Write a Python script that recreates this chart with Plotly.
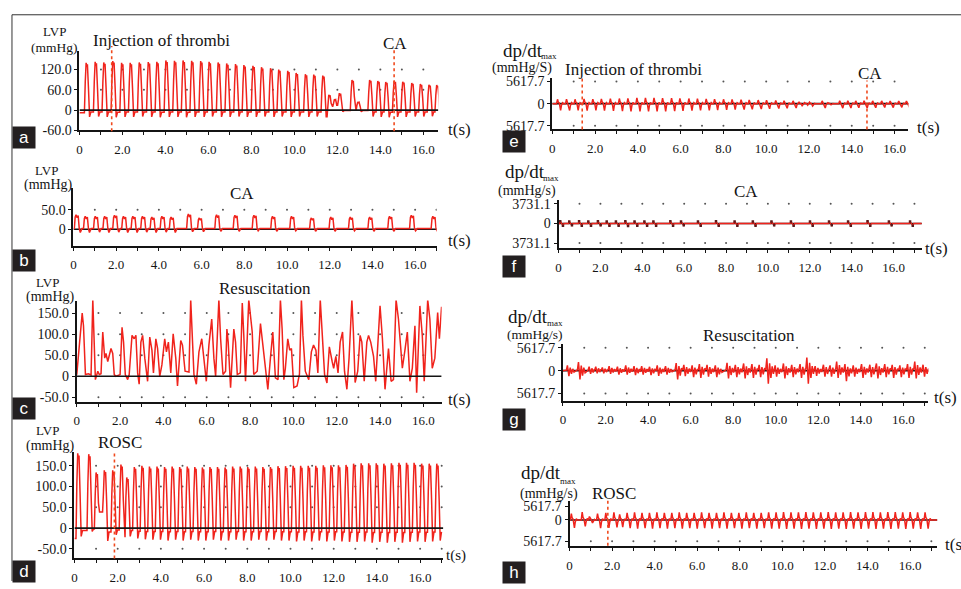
import plotly.graph_objects as go

# ---------------- data ----------------
x_tick_text = ["0", "", "2.0", "", "4.0", "", "6.0", "", "8.0", "", "10.0", "", "12.0", "", "14.0", "", "16.0", ""]

# (a) LVP, injection of thrombi -> CA : beat peak times (s), peak / trough (mmHg)
a_t = [0.31, 0.73, 1.13, 1.55, 1.96, 2.36, 2.78, 3.20, 3.60, 4.02, 4.42, 4.82, 5.22, 5.64,
       6.03, 6.45, 6.85, 7.26, 7.65, 8.07, 8.47, 8.89, 9.27, 9.69, 10.08, 10.51, 10.90, 11.32,
       11.60, 11.86, 12.09, 12.68, 12.95, 13.50, 13.88, 14.25, 14.64, 15.04, 15.46, 15.86,
       16.26, 16.62]
a_peak = [140, 143, 141, 145, 140, 140, 141, 142, 143, 147, 146, 147, 146, 145, 143, 141, 138,
          136, 133, 131, 127, 124, 120, 116, 110, 106, 105, 102, 45, 32, 50, 89, 24, 89, 86,
          83, 86, 84, 80, 77, 75, 74]
a_trough = [-20, -19, -20, -21, -20, -20, -19, -20, -21, -20, -20, -21, -20, -20, -19, -20, -20,
            -19, -20, -20, -19, -20, -19, -20, -19, -20, -19, -20, 10, 5, -5, -2, -5, -19, -20,
            -21, -20, -20, -19, -19, -18, -18]
a_start = -8
a_events = [1.5, 14.64]

# (b) LVP during CA
b_t = [0.16, 0.59, 1.06, 1.50, 1.96, 2.38, 2.82, 3.27, 3.71, 4.18, 4.61, 5.42, 5.93, 6.74,
       7.60, 8.49, 9.36, 10.25, 11.18, 12.09, 13.00, 13.91, 14.84, 15.86, 16.87]
b_peak = [37, 33, 33, 33, 36, 33, 33, 33, 31, 33, 31, 39, 29, 37, 36, 36, 33, 33, 29, 31, 31,
          31, 33, 36, 33]
b_trough = [-8, -8, -7, -8, -7, -8, -8, -7, -8, -7, -8, -6, -6, -5, -5, -4, -5, -4, -5, -5, -4,
            -5, -5, -4, -5]
b_base = 2

# (c) LVP during resuscitation: turning points of the trace
c_t = [0.00, 0.20, 0.25, 0.31, 0.40, 0.54, 0.66, 0.74, 0.81, 0.86, 0.97, 1.04, 1.12, 1.20, 1.29,
       1.35, 1.43, 1.50, 1.58, 1.66, 1.73, 1.81, 2.00, 2.09, 2.16, 2.24, 2.35, 2.42, 2.55, 2.65,
       2.73, 2.81, 2.88, 2.96, 3.04, 3.14, 3.27, 3.37, 3.47, 3.54, 3.65, 3.73, 3.83, 3.93, 4.06,
       4.14, 4.23, 4.34, 4.45, 4.57, 4.65, 4.80, 4.88, 5.00, 5.18, 5.26, 5.34, 5.41, 5.52, 5.64,
       5.77, 5.87, 5.98, 6.10, 6.23, 6.33, 6.41, 6.56, 6.64, 6.75, 6.87, 6.93, 6.99, 7.10, 7.25,
       7.33, 7.41, 7.55, 7.64, 7.71, 7.79, 7.94, 8.10, 8.17, 8.33, 8.48, 8.59, 8.71, 8.82, 8.94,
       9.05, 9.17, 9.29, 9.40, 9.48, 9.56, 9.63, 9.74, 9.83, 9.91, 10.02, 10.17, 10.28, 10.37,
       10.44, 10.55, 10.71, 10.83, 10.93, 11.04, 11.13, 11.24, 11.35, 11.44, 11.55, 11.66, 11.79,
       11.86, 11.96, 12.06, 12.16, 12.27, 12.36, 12.47, 12.57, 12.70, 12.77, 12.85, 12.97, 13.08,
       13.16, 13.27, 13.39, 13.47, 13.57, 13.70, 13.80, 13.93, 14.00, 14.11, 14.23, 14.39, 14.51,
       14.62, 14.74, 14.85, 14.95, 15.03, 15.15, 15.26, 15.38, 15.49, 15.61, 15.69, 15.84, 15.95,
       16.04, 16.20, 16.30, 16.41, 16.53, 16.66, 16.74, 16.84]
c_v = [4, 124, 150, 120, 4, 6, 3, 182, 89, -8, 12, 4, 6, 105, 43,
       54, 35, 50, 66, 54, 4, 0, 4, 116, 81, 4, -8, 4, 97, 89,
       97, 8, -19, 81, 97, 43, -12, 93, 62, 8, 89, 66, 0, 27, 89,
       58, 81, 8, 101, 43, -23, 85, 74, 12, 10, 182, 97, 4, -19, 58,
       89, 43, -12, 74, 136, 43, 0, 182, 89, 4, 12, 112, 81, -27, 112,
       81, 4, 8, 174, 97, -12, 182, 105, 4, 12, 125, 70, 12, -31, 43,
       105, -4, -8, 182, 112, -8, 19, 89, 62, 66, -27, -23, 5, 182,
       97, 12, -8, 58, 74, 62, 8, 182, 74, 4, -16, 70, 35,
       19, 47, 8, 81, 105, 12, -31, 43, 182, 105, -15, 12, 97,
       81, -12, 81, 97, 81, 47, -12, 112, 167, 89, -31, 66, -12,
       -8, 182, 136, 58, 19, 62, 105, -12, 19, 120, -39, 167, 97,
       -12, 182, 136, 19, 43, 151, 89, 165]

# (d) LVP after ROSC
d_t = [0.15, 0.66, 1.00, 1.38, 1.77, 2.15, 2.42, 2.77, 3.12, 3.47, 3.82, 4.17, 4.52, 4.87,
       5.22, 5.57, 5.92, 6.27, 6.62, 6.97, 7.32, 7.67, 8.02, 8.37, 8.72, 9.07, 9.42, 9.77,
       10.12, 10.47, 10.82, 11.17, 11.52, 11.87, 12.22, 12.57, 12.92, 13.27, 13.62, 13.97,
       14.32, 14.67, 15.02, 15.37, 15.72, 16.07, 16.42, 16.77]
d_peak = [180, 178, 134, 139, 139, 153, 122,
          147, 150, 148, 148, 147, 148, 147, 148, 147, 146, 147, 147, 146, 148, 148, 147, 148,
          147, 147, 149, 149, 150, 150, 150, 150, 151, 151, 151, 152, 155, 156, 156, 156, 155,
          156, 157, 157, 157, 155, 155, 155]
d_trough = [-20, -8, 39, -31, -16, -22, -20,
            -25, -27, -28, -28, -30, -28, -30, -28, -30, -30, -28, -30, -30, -28, -30, -30, -28,
            -30, -28, -30, -30, -32, -30, -32, -30, -32, -30, -32, -33, -33, -32, -35, -33, -35,
            -33, -35, -33, -32, -33, -32, -30]
d_start = -25
d_events = [1.85]

# (e) dp/dt during thrombi -> CA (same beats as a)
e_up = [1100, 1150, 1100, 1200, 1150, 1200, 1250, 1300, 1350, 1450, 1450, 1450, 1400, 1400,
        1350, 1300, 1250, 1200, 1150, 1100, 1050, 1000, 950, 900, 850, 800, 750, 700, 350, 250,
        400, 700, 200, 750, 750, 700, 750, 700, 700, 650, 650, 650]
e_down = [-1700, -1750, -1700, -1800, -1750, -1800, -1850, -1900, -1950, -2000, -2000, -1950,
          -1950, -1900, -1850, -1800, -1750, -1700, -1650, -1600, -1550, -1500, -1450, -1400,
          -1300, -1250, -1200, -1100, -500, -400, -600, -1100, -300, -1150, -1100, -1050, -1100,
          -1050, -1000, -1000, -950, -950]
e_events = [1.40, 14.71]

# (f) dp/dt during CA (same beats as b)
f_up = [430, 360, 400, 360, 430, 360, 360, 430, 360, 360, 360, 430, 360, 360, 400, 360, 360,
        360, 360, 360, 360, 360, 400, 360, 360]
f_down = [-430, -360, -430, -430, -360, -430, -430, -500, -430, -430, -430, -430, -360, -430,
          -430, -430, -430, -360, -430, -430, -360, -430, -430, -360, -430]

# (g) dp/dt during resuscitation
g_t = [0.23, 0.75, 1.25, 1.56, 1.87, 2.19, 2.58, 2.97, 3.36, 3.72, 4.09, 4.45, 4.84, 5.34, 5.70,
       6.09, 6.43, 6.79, 7.18, 7.73, 8.12, 8.51, 8.90, 9.24, 9.60, 9.99, 10.38, 10.77, 11.16,
       11.48, 11.87, 12.26, 12.57, 12.88, 13.27, 13.66, 14.05, 14.44, 14.75, 15.14, 15.49,
       15.85, 16.21, 16.55, 16.94]
g_up = [1280, 2090, 960, 960, 800, 1120, 960, 1280, 1120, 1120, 960, 1280, 1120, 1850, 1450,
        1280, 1600, 1450, 1280, 1930, 1450, 1770, 1600, 1450, 3050, 1280, 1770, 1450, 1600,
        3210, 1120, 1450, 1280, 2250, 1600, 1280, 1600, 1450, 1770, 1600, 1450, 1280, 1600,
        2250, 1450]
g_down = [-1360, -2170, -800, -640, -640, -800, -960, -960, -1120, -960, -1120, -1280, -960,
          -2170, -1360, -1600, -1770, -1450, -1600, -1930, -1600, -1930, -1770, -1600, -3210,
          -1450, -1930, -1600, -1770, -3210, -1280, -1450, -1450, -1770, -2570, -1450, -1770,
          -1600, -1930, -1600, -1770, -1600, -1770, -1930, -1450]

# (h) dp/dt after ROSC (same beats as d)
h_up = [1700, 2100, 900, 1700, 1900, 2000, 1500,
        1900, 2000, 1900, 1900, 2000, 1900, 1900, 2000, 1900, 1900, 2000, 1900, 1900, 2000,
        1900, 1900, 2000, 1900, 1900, 2000, 2000, 2100, 2000, 2000, 2100, 2000, 2000, 2100,
        2000, 2000, 2100, 2000, 2100, 2100, 2000, 2100, 2100, 2000, 2100, 2000, 2000]
h_down = [-2100, -1700, -800, -2200, -2100, -2000, -1900,
          -2200, -2300, -2200, -2300, -2200, -2300, -2200, -2300, -2200, -2300, -2200, -2300,
          -2200, -2300, -2200, -2300, -2200, -2300, -2200, -2300, -2300, -2400, -2300, -2400,
          -2300, -2400, -2300, -2400, -2300, -2400, -2300, -2400, -2300, -2400, -2300, -2400,
          -2300, -2400, -2300, -2400, -2300]
h_events = [1.80]

# ---------------- styling / geometry ----------------
W, H = 961, 589
RED = "#f0231c"
EVT = "#f04a1e"
INK = "#141414"
SERIF = "Liberation Serif"

panels = {
    "a": dict(x0=76.7, xend=436.7, pxps=21.56, ybot=129.0, ytop=48.0, z=108.3, k=2.899,
              yt=[-60, 0, 60, 120], ytx=["-60.0", "0", "60.0", "120.0"], grid=[60, 120]),
    "b": dict(x0=70.7, xend=435.0, pxps=21.42, ybot=246.7, ytop=188.3, z=230.0, k=2.5,
              yt=[0, 50], ytx=["0", "50.0"], grid=[50]),
    "c": dict(x0=74.0, xend=440.0, pxps=21.73, ybot=406.0, ytop=302.7, z=380.0, k=2.3256,
              yt=[-50, 0, 50, 100, 150], ytx=["-50.0", "0", "50.0", "100.0", "150.0"],
              grid=[-50, 50, 100, 150]),
    "d": dict(x0=71.7, xend=441.7, pxps=21.67, ybot=565.7, ytop=457.3, z=535.0, k=2.358,
              yt=[-50, 0, 50, 100, 150], ytx=["-50.0", "0", "50.0", "100.0", "150.0"],
              grid=[-50, 50, 100, 150]),
    "e": dict(x0=551.0, xend=908.3, pxps=21.46, ybot=127.7, ytop=76.0, z=101.7, k=249.7,
              yt=[-5617.7, 0, 5617.7], ytx=["5617.7", "0", "5617.7"], grid=[-5617.7, 5617.7]),
    "f": dict(x0=557.3, xend=921.7, pxps=21.0, ybot=249.0, ytop=200.0, z=224.0, k=186.6,
              yt=[-3731.1, 0, 3731.1], ytx=["3731.1", "0", "3731.1"], grid=[-3731.1, 3731.1]),
    "g": dict(x0=561.7, xend=928.3, pxps=21.35, ybot=405.0, ytop=347.3, z=374.3, k=240.6,
              yt=[-5617.7, 0, 5617.7], ytx=["5617.7", "0", "5617.7"], grid=[-5617.7, 5617.7]),
    "h": dict(x0=568.3, xend=937.3, pxps=21.35, ybot=553.3, ytop=507.3, z=526.7, k=260.0,
              yt=[-5617.7, 0, 3640], ytx=["5617.7", "0", "5617.7"], grid=[-5617.7]),
}
order = ["a", "b", "c", "d", "e", "f", "g", "h"]


def tend(p):
    return (p["xend"] - p["x0"]) / p["pxps"]


def beat_wave(times, offs, vals_fn, start, end=None):
    xs, ys = [0.0], [start]
    for i, tp in enumerate(times):
        limit = times[i + 1] + offs[0] if i + 1 < len(times) else 1e9
        vals = vals_fn(i, ys[-1])
        for o, v in zip(offs, vals):
            t = tp + o
            if xs[-1] <= t < limit:
                xs.append(t)
                ys.append(v)
    if end is not None:
        xs.append(end[0])
        ys.append(end[1])
    return xs, ys


LVP_OFF = [-0.08, -0.04, 0.0, 0.03, 0.06, 0.11, 0.16, 0.22]


def lvp_fn(peaks, troughs):
    def f(i, rest):
        p, tr = peaks[i], troughs[i]
        return [rest, 0.6 * p, p, 0.92 * p, 0.97 * p, 0.45 * p, tr, 0.3 * tr if tr < 0 else tr]
    return f


B_OFF = [-0.12, -0.08, -0.04, 0.01, 0.06, 0.11, 0.16, 0.24]


def b_fn(i, rest):
    p, tr = b_peak[i], b_trough[i]
    return [b_base, 0.85 * p, p, 0.8 * p, 0.95 * p, b_base, tr, b_base]


DP_OFF = [-0.11, -0.065, -0.03, 0.02, 0.08, 0.12, 0.17, 0.21]


def dp_fn(ups, downs):
    def f(i, rest):
        u, d = ups[i], downs[i]
        return [0, u, 0.35 * u, 0.1 * u, d, 0.25 * d, 0.2 * u, 0]
    return f


G_OFF = [-0.07, -0.02, 0.05, 0.11, 0.17, 0.23, 0.29]


def g_fn(i, rest):
    u, d = g_up[i], g_down[i]
    return [0.1 * u, u, d, 0.6 * u, 0.55 * d, 0.35 * u, 0.25 * d]


F_OFF = [-0.12, -0.08, -0.02, 0.05, 0.10]


def f_fn(i, rest):
    return [0, f_up[i], 0, f_down[i], 0]


waves = {
    "a": beat_wave(a_t, LVP_OFF, lvp_fn(a_peak, a_trough), a_start),
    "b": beat_wave(b_t, B_OFF, b_fn, b_base, (tend(panels["b"]), b_base)),
    "c": (c_t, c_v),
    "d": beat_wave(d_t, LVP_OFF, lvp_fn(d_peak, d_trough), d_start),
    "e": beat_wave(a_t, DP_OFF, dp_fn(e_up, e_down), 0, (tend(panels["e"]), 0)),
    "f": beat_wave(b_t, F_OFF, f_fn, 0, (tend(panels["f"]), 0)),
    "g": beat_wave(g_t, G_OFF, g_fn, 0, (tend(panels["g"]), 0)),
    "h": beat_wave(d_t, DP_OFF, dp_fn(h_up, h_down), 0, (tend(panels["h"]), 0)),
}

fig = go.Figure()
layout = dict(width=W, height=H, margin=dict(l=0, r=0, t=0, b=0),
              paper_bgcolor="white", plot_bgcolor="rgba(0,0,0,0)", showlegend=False,
              font=dict(family=SERIF, color=INK))

for idx, key in enumerate(order, start=1):
    p = panels[key]
    xn = "x" if idx == 1 else f"x{idx}"
    yn = "y" if idx == 1 else f"y{idx}"
    te = tend(p)
    ymin = -(p["ybot"] - p["z"]) * p["k"]
    ymax = (p["z"] - p["ytop"]) * p["k"]
    ticks = [t for t in range(0, 18) if t <= te + 1e-6]
    layout["xaxis" if idx == 1 else f"xaxis{idx}"] = dict(
        domain=[p["x0"] / W, p["xend"] / W], range=[0, te], anchor=yn,
        showline=True, linecolor=INK, linewidth=2, ticks="outside", ticklen=3, tickwidth=1.2,
        tickcolor=INK, tickvals=ticks, ticktext=[x_tick_text[t] for t in ticks],
        tickfont=dict(family=SERIF, size=13, color=INK), showgrid=False, zeroline=False,
        fixedrange=True, ticklabelstandoff=3)
    layout["yaxis" if idx == 1 else f"yaxis{idx}"] = dict(
        domain=[1 - p["ybot"] / H, 1 - p["ytop"] / H], range=[ymin, ymax], anchor=xn,
        showline=True, linecolor=INK, linewidth=2, ticks="outside", ticklen=3, tickwidth=1.2,
        tickcolor=INK, tickvals=p["yt"], ticktext=p["ytx"],
        tickfont=dict(family=SERIF, size=14, color=INK), showgrid=False, zeroline=False,
        fixedrange=True)

    # dotted grid (one dot per second on each level)
    gx, gy = [], []
    for lvl in p["grid"]:
        for t in range(1, int(te) + 1):
            gx.append(t)
            gy.append(lvl)
    fig.add_trace(go.Scatter(x=gx, y=gy, xaxis=xn, yaxis=yn, mode="markers",
                             marker=dict(size=2, color="#555555"), hoverinfo="skip"))
    zero = go.Scatter(x=[0, te], y=[0, 0], xaxis=xn, yaxis=yn, mode="lines",
                      line=dict(color=INK, width=1.6), hoverinfo="skip")
    wx, wy = waves[key]
    red = go.Scatter(x=wx, y=wy, xaxis=xn, yaxis=yn, mode="lines",
                     line=dict(color=RED, width=1.5), hoverinfo="skip")
    if key in ("a", "c", "d"):
        fig.add_trace(red)
        fig.add_trace(zero)
    else:
        fig.add_trace(zero)
        fig.add_trace(red)
    if key == "f":
        mx, my = [], []
        for i, tp in enumerate(b_t):
            mx += [tp - 0.08, tp + 0.05]
            my += [f_up[i], f_down[i]]
        fig.add_trace(go.Scatter(x=mx, y=my, xaxis=xn, yaxis=yn, mode="markers",
                                 marker=dict(size=2.5, symbol="square", color="#5a1a1a"),
                                 hoverinfo="skip"))

fig.update_layout(**layout)

# event lines
shapes = []


def evt(axis_idx, t, py0, py1):
    xn = "x" if axis_idx == 1 else f"x{axis_idx}"
    shapes.append(dict(type="line", xref=xn, yref="paper", x0=t, x1=t,
                       y0=1 - py1 / H, y1=1 - py0 / H,
                       line=dict(color=EVT, width=1.6, dash="dot")))


evt(1, a_events[0], 43, 130)
evt(1, a_events[1], 47, 130)
evt(4, d_events[0], 457, 566)
evt(5, e_events[0], 76, 128)
evt(5, e_events[1], 78, 128)
evt(8, h_events[0], 507, 553)

# figure frame (top and left)
shapes.append(dict(type="line", xref="paper", yref="paper", x0=9 / W, x1=1, y0=1 - 11 / H,
                   y1=1 - 11 / H, line=dict(color="#333333", width=1)))
shapes.append(dict(type="line", xref="paper", yref="paper", x0=9 / W, x1=9 / W, y0=0,
                   y1=1 - 11 / H, line=dict(color="#333333", width=1)))

ann = []


def txt(s, cx, cy, size, anchor="center", family=SERIF):
    ann.append(dict(text=s, x=cx / W, y=1 - cy / H, xref="paper", yref="paper",
                    xanchor=anchor, yanchor="middle", showarrow=False,
                    font=dict(family=family, size=size, color=INK)))


texts = [
    ("LVP", 51.5, 28, 13), ("(mmHg)", 52, 44, 13.5), ("Injection of thrombi", 159, 37, 17),
    ("CA", 393.5, 40, 17), ("t(s)", 458, 127.7, 17),
    ("LVP", 44, 170, 13), ("(mmHg)", 46, 185, 14), ("CA", 240, 193, 17), ("t(s)", 458, 241.5, 17),
    ("LVP", 45, 284, 13), ("(mmHg)", 48, 299.5, 14), ("Resuscitation", 263, 290.7, 17),
    ("t(s)", 457.5, 403.3, 17),
    ("LVP", 45, 435, 13), ("(mmHg)", 48, 451, 14), ("ROSC", 117, 448, 17), ("t(s)", 454, 562.7, 15),
    ("dp/dt", 521.5, 47, 19), ("max", 548, 53, 9), ("(mmHg/S)", 521, 65, 14),
    ("Injection of thrombi", 632, 66.7, 17), ("CA", 870, 70.7, 17), ("t(s)", 928.5, 126, 17),
    ("dp/dt", 523.5, 171, 19), ("max", 550, 178, 9), ("(mmHg/s)", 526, 191, 14),
    ("CA", 745, 191.7, 17), ("t(s)", 936.5, 249.3, 17),
    ("dp/dt", 527, 318.5, 19), ("max", 554, 325.5, 9), ("(mmHg/s)", 534, 337, 13.5),
    ("Resuscitation", 748.5, 338.3, 17), ("t(s)", 945, 401.7, 17),
    ("dp/dt", 540, 478, 19), ("max", 567, 487, 9), ("(mmHg/s)", 548, 500, 14),
    ("ROSC", 612.5, 500, 17),
]
for s, cx, cy, sz in texts:
    txt(s, cx, cy, sz)
txt("t(s)", 943, 552, 17, anchor="left")

# panel letters
letters = [("a", 21, 136.5), ("b", 21, 262), ("c", 21, 413), ("d", 21, 579),
           ("e", 512.5, 140), ("f", 513, 268), ("g", 513, 424), ("h", 513, 580)]
for s, cx, cy in letters:
    ann.append(dict(text=s, x=cx / W, y=1 - cy / H, xref="paper", yref="paper",
                    xanchor="center", yanchor="middle", showarrow=False,
                    font=dict(family="Liberation Sans", size=17, color="white"),
                    bgcolor="#231f20", width=20, height=19, borderpad=1))

fig.update_layout(shapes=shapes, annotations=ann)
fig.write_html("out.html", config={"displayModeBar": False})

# remove the browser's default page margin so the figure sits at the window's corner
with open("out.html", "r", encoding="utf-8") as fh:
    html = fh.read()
html = html.replace("<body>", '<body style="margin:0;padding:0;overflow:hidden">', 1)
with open("out.html", "w", encoding="utf-8") as fh:
    fh.write(html)
